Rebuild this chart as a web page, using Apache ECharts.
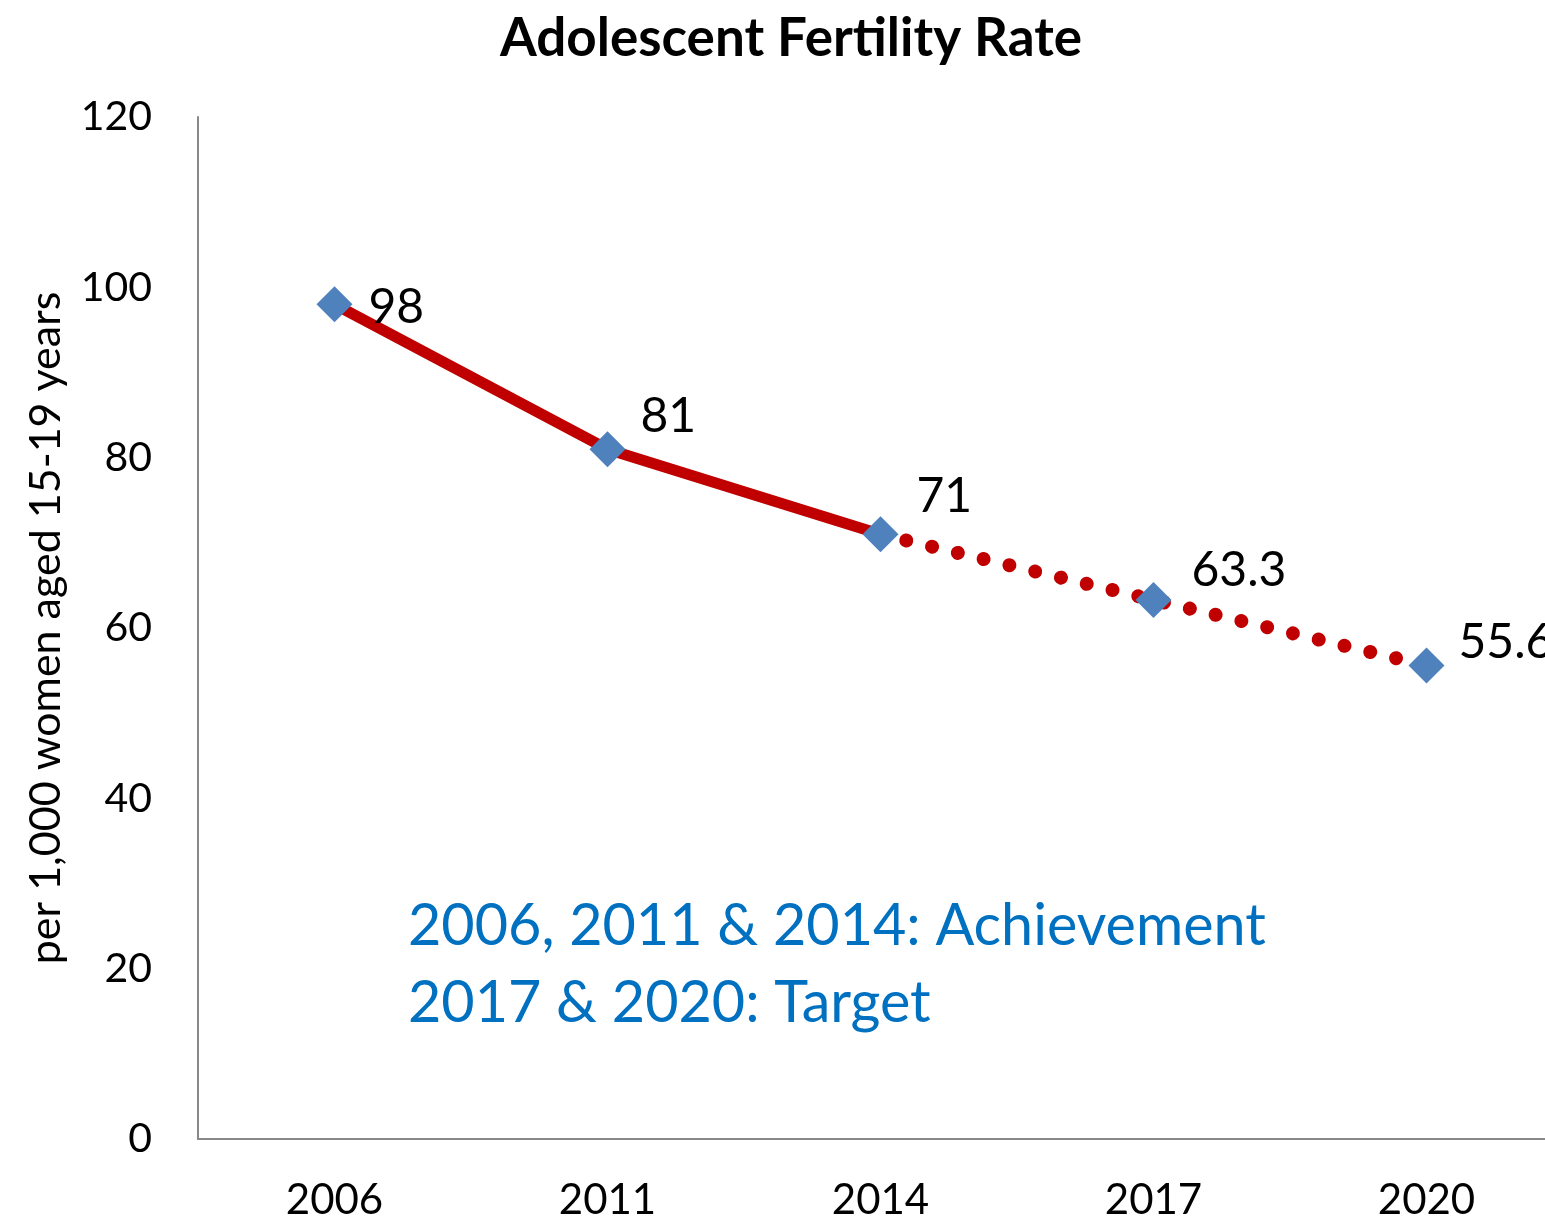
<!DOCTYPE html>
<html>
<head>
<meta charset="utf-8">
<script src="https://cdn.jsdelivr.net/npm/echarts@6/dist/echarts.min.js"></script>
<style>
  html, body { margin: 0; padding: 0; background: #fff; }
  #chart { width: 1545px; height: 1224px; }
</style>
</head>
<body>
<div id="chart"></div>
<script>
// Survey years and adolescent fertility rate (per 1,000 women aged 15-19)
const years = ['2006', '2011', '2014', '2017', '2020'];
const rates = [98, 81, 71, 63.3, 55.6];
// Achieved values (solid) and targets (dotted); 2014 joins the two
const achieved = [98, 81, 71, null, null];
const targets = [null, null, 71, 63.3, 55.6];
const yTicks = [0, 20, 40, 60, 80, 100, 120];

// Label offsets per point [dx, dy]
const labelOffsets = [[16, 3], [15, -33], [18, -38], [20, -29], [14, -23]];

const FONT = 'Lato, "Open Sans", sans-serif';

const chart = echarts.init(document.getElementById('chart'), null, { renderer: 'canvas' });

chart.setOption({
  backgroundColor: '#ffffff',
  animation: false,
  title: {
    text: 'Adolescent Fertility Rate',
    left: 786,
    textAlign: 'center',
    top: 7,
    textStyle: { fontFamily: FONT, fontWeight: 'bold', fontSize: 53, color: '#000' }
  },
  grid: { left: 198, top: 117, width: 1365, height: 1022, containLabel: false, outerBoundsMode: 'none' },
  xAxis: {
    type: 'category',
    data: years,
    boundaryGap: true,
    axisLine: { show: true, lineStyle: { color: '#888', width: 2 } },
    axisTick: { show: false },
    axisLabel: { fontFamily: FONT, fontSize: 42, color: '#000', margin: 40 },
    splitLine: { show: false }
  },
  yAxis: {
    type: 'value',
    min: yTicks[0],
    max: yTicks[yTicks.length - 1],
    interval: 20,
    name: 'per 1,000 women aged 15-19 years',
    nameLocation: 'middle',
    nameRotate: 90,
    nameGap: 130,
    nameTextStyle: { fontFamily: FONT, fontSize: 43, color: '#000' },
    axisLine: { show: true, lineStyle: { color: '#888', width: 2 } },
    axisTick: { show: false },
    axisLabel: { fontFamily: FONT, fontSize: 41, color: '#000', margin: 46 },
    splitLine: { show: false }
  },
  graphic: [
    {
      type: 'text',
      left: 408,
      top: 888,
      style: {
        text: '2006, 2011 & 2014: Achievement\n2017 & 2020: Target',
        fontFamily: FONT,
        fontSize: 57.5,
        lineHeight: 77,
        fill: '#0070C0'
      }
    }
  ],
  series: [
    {
      name: 'Achievement',
      type: 'line',
      data: achieved,
      showSymbol: false,
      symbol: 'none',
      connectNulls: false,
      lineStyle: { color: '#C00000', width: 11 },
      z: 2
    },
    {
      name: 'Target',
      type: 'line',
      data: targets,
      showSymbol: false,
      symbol: 'none',
      lineStyle: { color: '#C00000', width: 14, type: [0.01, 26.5], cap: 'round' },
      z: 2
    },
    {
      name: 'Rate',
      type: 'scatter',
      data: rates.map((v, i) => ({
        value: v,
        label: { offset: labelOffsets[i] }
      })),
      symbol: 'diamond',
      symbolSize: 36,
      itemStyle: { color: '#4F81BD', opacity: 1 },
      label: {
        show: true,
        position: 'right',
        distance: 0,
        fontFamily: FONT,
        fontSize: 48,
        color: '#000',
        formatter: p => String(p.value)
      },
      z: 3
    }
  ]
});
</script>
</body>
</html>
